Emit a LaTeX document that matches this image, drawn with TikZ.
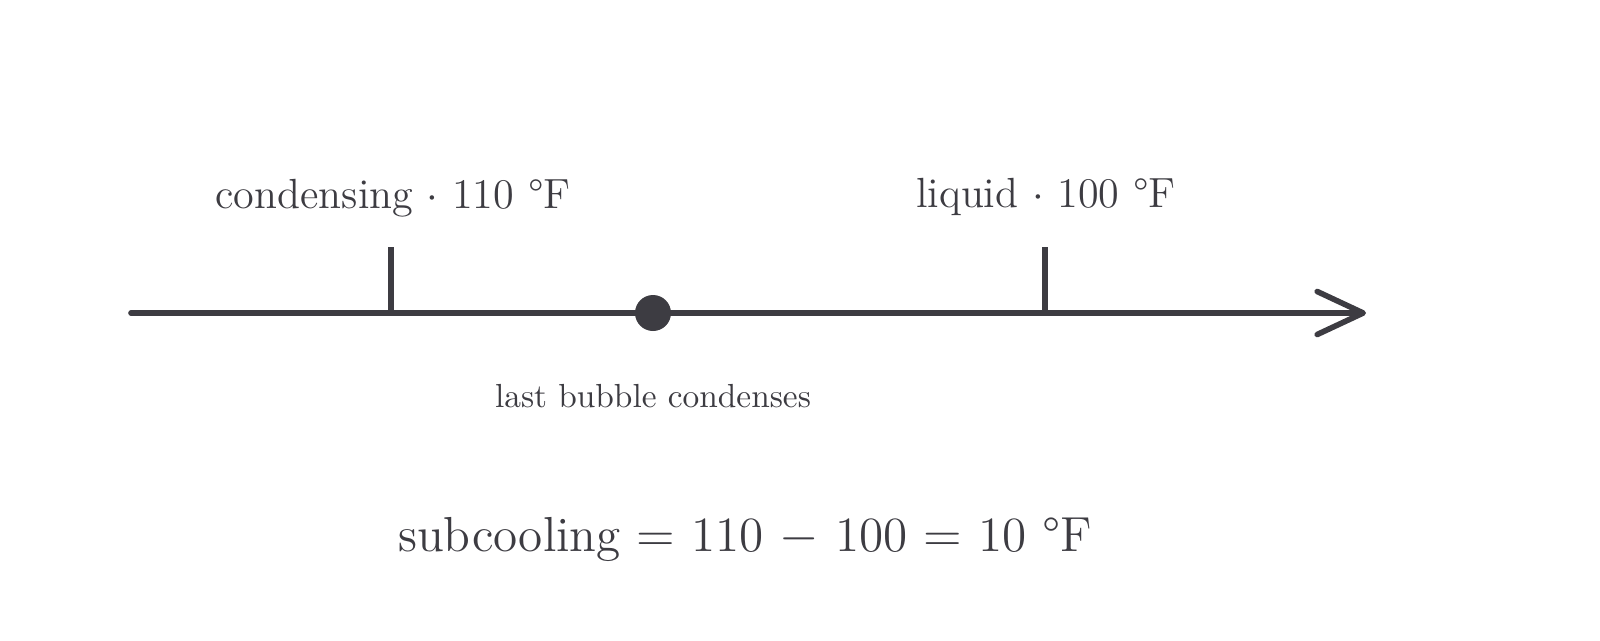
\documentclass[tikz,border=0pt]{standalone}
\usepackage{fontspec}
\usetikzlibrary{arrows.meta}
\definecolor{ink}{HTML}{3D3C42}
\begin{document}
\begin{tikzpicture}[line width=1.6pt,draw=ink,text=ink]
  \useasboundingbox (0,0) rectangle (16,6.4);
  \coordinate (AxisStart) at (1.31,3.27);
  \coordinate (AxisEnd) at (13.66,3.27);
  \coordinate (CondTick) at (3.91,3.27);
  \coordinate (LiqTick) at (10.45,3.27);
  \coordinate (CondTop) at (3.91,3.93);
  \coordinate (LiqTop) at (10.45,3.93);
  \draw [line cap=round,-{Straight Barb[length=4.6mm,width=4.3mm,round]}] (AxisStart) -- (AxisEnd);
  \draw (CondTick) -- (CondTop);
  \draw (LiqTick) -- (LiqTop);
  \node (Bubble) [circle,fill=ink,inner sep=0pt,minimum size=3.6mm] at (6.53,3.27) {};
  \node (CondLabel) [font=\fontsize{12}{14}\selectfont] at (3.93,4.42) {condensing $\cdot$ 110 °F};
  \node (LiqLabel) [font=\fontsize{12}{14}\selectfont] at (10.46,4.43) {liquid $\cdot$ 100 °F};
  \node (BubbleLabel) [font=\fontsize{9.5}{11}\selectfont] at (6.53,2.44) {last bubble condenses};
  \node (Result) [font=\fontsize{14}{17}\selectfont] at (7.45,1.01) {subcooling $=$ 110 $-$ 100 $=$ 10 °F};
\end{tikzpicture}
\end{document}
